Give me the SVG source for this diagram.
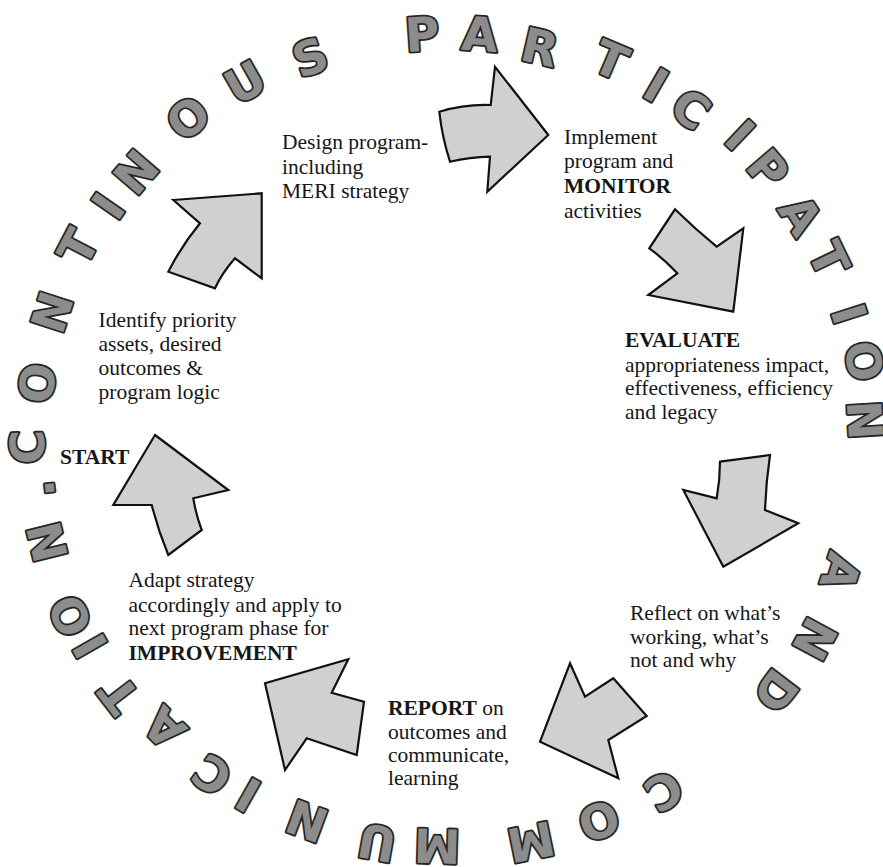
<svg xmlns="http://www.w3.org/2000/svg" width="883" height="867" viewBox="0 0 883 867">
<style>
.bg{fill:#ffffff}
.ring text{font-family:"DejaVu Sans","Liberation Sans",sans-serif;font-weight:bold;font-size:47px;fill:#8c8c8c;stroke:#262626;stroke-width:3.6;paint-order:stroke;stroke-linejoin:round;text-anchor:middle}
.arrow{fill:#d0d0d0;stroke:#111;stroke-width:2.2;stroke-linejoin:miter}
.lbl{font-family:"Liberation Serif","Times New Roman",serif;font-size:21.5px;fill:#161616}
.b{font-weight:bold}
</style>
<rect class="bg" x="0" y="0" width="883" height="867"/>
<g id="ring" class="ring">
<text transform="translate(27 447) rotate(-90.7)" y="17">C</text>
<text transform="translate(37 383) rotate(-81.9)" y="17">O</text>
<text transform="translate(52 312) rotate(-72)" y="17">N</text>
<text transform="translate(78 247) rotate(-62.3)" y="17">T</text>
<text transform="translate(108 206) rotate(-55.3)" y="17">I</text>
<text transform="translate(136 172) rotate(-49.3)" y="17">N</text>
<text transform="translate(188 118) rotate(-38.9)" y="17">O</text>
<text transform="translate(245 82) rotate(-29.5)" y="17">U</text>
<text transform="translate(310 57) rotate(-19.9)" y="17">S</text>
<text transform="translate(422 34) rotate(-3.8)" y="17">P</text>
<text transform="translate(480 34) rotate(4.3)" y="17">A</text>
<text transform="translate(540 47) rotate(12.9)" y="17">R</text>
<text transform="translate(611 60) rotate(23.1)" y="17">T</text>
<text transform="translate(656 85) rotate(30.1)" y="17">I</text>
<text transform="translate(691 109) rotate(36)" y="17">C</text>
<text transform="translate(740 135) rotate(43.5)" y="17">I</text>
<text transform="translate(768 169) rotate(49.4)" y="17">P</text>
<text transform="translate(801 215) rotate(57.1)" y="17">A</text>
<text transform="translate(829 259) rotate(64.2)" y="17">T</text>
<text transform="translate(849 314) rotate(72.3)" y="17">I</text>
<text transform="translate(864 361) rotate(79)" y="17">O</text>
<text transform="translate(865 420) rotate(86.5)" y="17">N</text>
<text transform="translate(841 572) rotate(108.3)" y="17">A</text>
<text transform="translate(815 639) rotate(118.2)" y="17">N</text>
<text transform="translate(776 691) rotate(127.3)" y="17">D</text>
<text transform="translate(664 791) rotate(148.4)" y="17">C</text>
<text transform="translate(599 821) rotate(158.4)" y="17">O</text>
<text transform="translate(531 842) rotate(168.4)" y="17">M</text>
<text transform="translate(437 846) rotate(181.7)" y="17">M</text>
<text transform="translate(377 843) rotate(190.1)" y="17">U</text>
<text transform="translate(307 821) rotate(200.4)" y="17">N</text>
<text transform="translate(248 795) rotate(209.6)" y="17">I</text>
<text transform="translate(212 775) rotate(215.5)" y="17">C</text>
<text transform="translate(164 728) rotate(224.8)" y="17">A</text>
<text transform="translate(119 695) rotate(232.4)" y="17">T</text>
<text transform="translate(90 646) rotate(240.4)" y="17">I</text>
<text transform="translate(70 616) rotate(245.3)" y="17">O</text>
<text transform="translate(47 542) rotate(256.1)" y="17">N</text>
<text transform="translate(48 488) rotate(263.5)" y="6">.</text>
</g>
<g id="connectors">
<path class="arrow" d="M439.3,111.7 Q465,104 490.7,105 L495,66.7 L548.3,135 L487.3,191.7 L490,156.7 Q470,157 450,161.7 Q442,137 439.3,111.7 Z"/>
<path class="arrow" d="M173.3,200 L261.7,193.3 L261.7,278.3 L235,258.3 Q222,273 215,288.3 L168.3,271.7 Q182,245 200,223.3 Z"/>
<path class="arrow" d="M675,209.3 Q695,229 716.7,246.7 L743.3,228.3 L733.3,311.7 L648.3,295 L677.3,273.3 Q664,259 649.3,248.3 Z"/>
<path class="arrow" d="M720,461.7 L770,455 Q766,482 765,510 L798.3,523.3 L723.3,566.7 L683.3,490 L716.7,498.3 Q720,480 720,461.7 Z"/>
<path class="arrow" d="M570,663.3 L585,696.7 L613.3,678.3 L646.7,716 L608.3,740 L618.3,778.3 L540,741.7 Z"/>
<path class="arrow" d="M348.3,659.3 L331.7,692.7 L364,701.7 L356.7,755 L306.7,738.3 L285,770 L265,683.3 Z"/>
<path class="arrow" d="M155,435 L228.3,490 L193.3,498.3 Q196,515 201.7,530 L168.3,555 Q158,530 151.7,505 L113.3,505 Z"/>
</g>
<g id="node-design">
<text class="lbl" x="282" y="149">Design program-</text>
<text class="lbl" x="282" y="173.5">including</text>
<text class="lbl" x="282" y="198">MERI strategy</text>
</g>
<g id="node-implement">
<text class="lbl" x="564" y="143.5">Implement</text>
<text class="lbl" x="564" y="168.2">program and</text>
<text class="lbl b" x="564" y="193">MONITOR</text>
<text class="lbl" x="564" y="217.5">activities</text>
</g>
<g id="node-evaluate">
<text class="lbl b" x="625" y="346.7">EVALUATE</text>
<text class="lbl" x="625" y="371.5">appropriateness impact,</text>
<text class="lbl" x="625" y="395">effectiveness, efficiency</text>
<text class="lbl" x="625" y="418.5">and legacy</text>
</g>
<g id="node-reflect">
<text class="lbl" x="630" y="620">Reflect on what’s</text>
<text class="lbl" x="630" y="643.5">working, what’s</text>
<text class="lbl" x="630" y="667">not and why</text>
</g>
<g id="node-report">
<text class="lbl" x="388" y="715"><tspan class="b">REPORT</tspan> on</text>
<text class="lbl" x="388" y="738.5">outcomes and</text>
<text class="lbl" x="388" y="762">communicate,</text>
<text class="lbl" x="388" y="785">learning</text>
</g>
<g id="node-adapt">
<text class="lbl" x="128.5" y="587">Adapt strategy</text>
<text class="lbl" x="128.5" y="611.5">accordingly and apply to</text>
<text class="lbl" x="128.5" y="635">next program phase for</text>
<text class="lbl b" x="128.5" y="659.5">IMPROVEMENT</text>
</g>
<g id="node-start">
<text class="lbl b" x="60" y="463.5">START</text>
</g>
<g id="node-identify">
<text class="lbl" x="98.5" y="327">Identify priority</text>
<text class="lbl" x="98.5" y="351">assets, desired</text>
<text class="lbl" x="98.5" y="375">outcomes &amp;</text>
<text class="lbl" x="98.5" y="399.3">program logic</text>
</g>
</svg>
